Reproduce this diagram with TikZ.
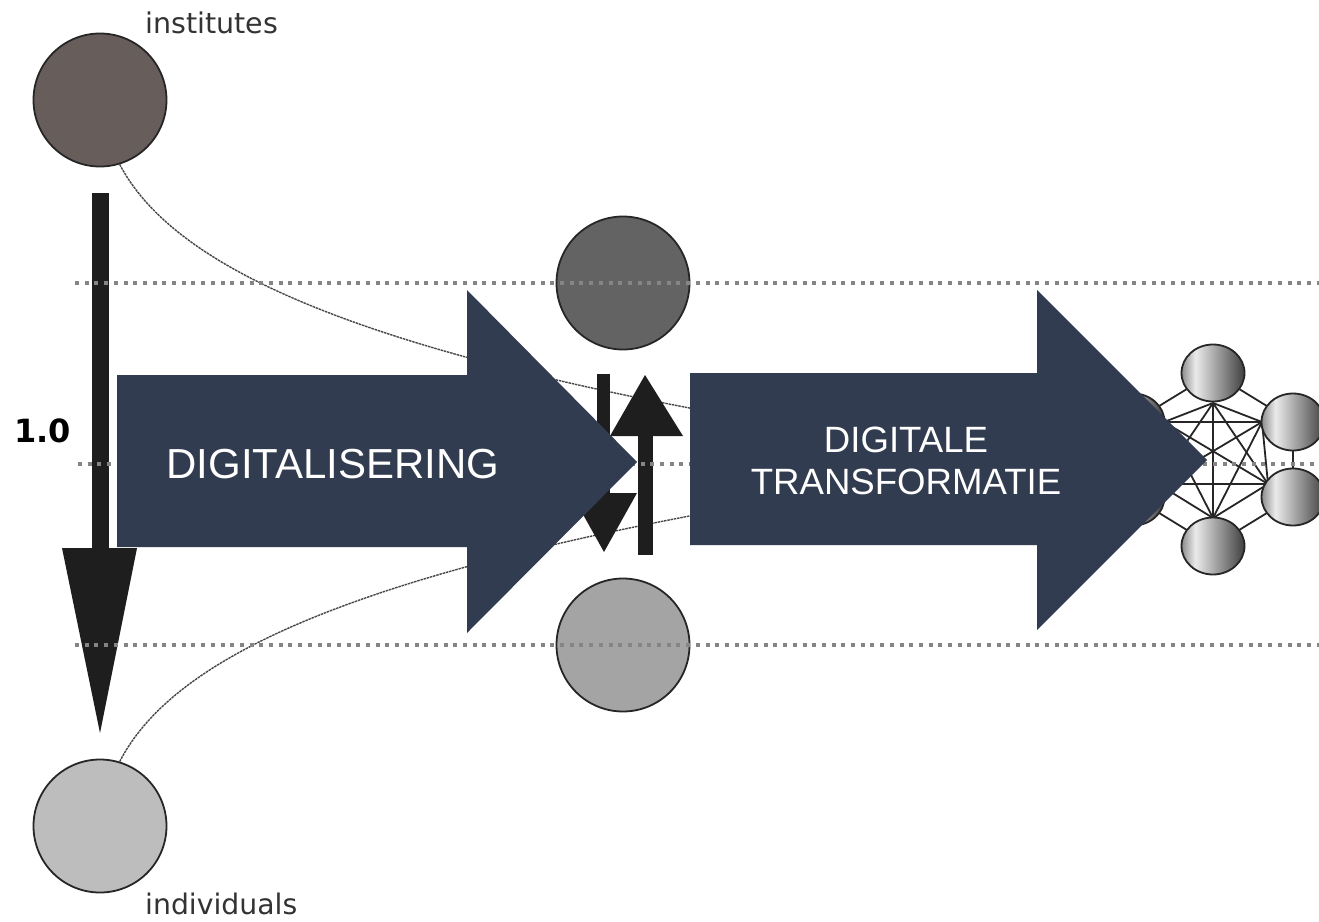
\documentclass[tikz,border=0pt]{standalone}
\usepackage{fontspec}
\newfontfamily\dvsans{DejaVu Sans}
\newfontfamily\arialf{Liberation Sans}
\usetikzlibrary{shapes.geometric}
\definecolor{navy}{RGB}{50,60,80}
\definecolor{instc}{RGB}{103,93,91}
\definecolor{midtop}{RGB}{99,99,99}
\definecolor{midbot}{RGB}{164,164,164}
\definecolor{indc}{RGB}{189,189,189}
\definecolor{arrowblk}{RGB}{30,30,30}
\pgfdeclarehorizontalshading{ballshade}{100bp}{color(0bp)=(black!45); color(25bp)=(black!45); color(36bp)=(white!92!black); color(75bp)=(black!75); color(100bp)=(black!75)}
\begin{document}
\begin{tikzpicture}[x=1pt,y=-1pt,
  dotline/.style={draw=black!48, line width=4pt, dash pattern=on 4pt off 5.7pt},
  ball/.style={circle, draw=black!85, line width=1.8pt, minimum size=133pt, inner sep=0pt},
  thincurve/.style={draw=black!72, line width=1.4pt, dash pattern=on 2.5pt off 0.8pt},
  netball/.style={ellipse, draw=black!85, line width=1.8pt, minimum width=63pt, minimum height=57pt, inner sep=0pt, shade, shading=ballshade},
  netedge/.style={draw=black!85, line width=1.8pt},
  blackarrow/.style={fill=arrowblk},
  bigarrow/.style={fill=navy},
  bigtext/.style={text=white, inner sep=0pt, align=center}
]
\useasboundingbox (0,0) rectangle (1319,921);
\fill[white] (0,0) rectangle (1319,921);

% circles
\node[ball, fill=instc] (inst) at (100,100) {};
\node[ball, fill=indc] (indiv) at (100,826) {};
\node[ball, fill=midtop] (mtop) at (623,283) {};
\node[ball, fill=midbot] (mbot) at (623,645) {};

% thin curves
\coordinate (tEnd) at (700,410);
\coordinate (bEnd) at (700,514);
\draw[thincurve] (inst.-73) .. controls (170,260) and (330,340) .. (tEnd);
\draw[thincurve] (indiv.73) .. controls (170,664) and (330,584) .. (bEnd);

% left vertical arrow
\fill[blackarrow] (91.5,193) rectangle (108.5,552);
\fill[blackarrow] (62,548) -- (137,548) -- (100,733) -- cycle;

% middle arrows
\fill[blackarrow] (638,433) rectangle (652.5,555);
\fill[blackarrow] (610,436) -- (683,436) -- (645,375) -- cycle;
\fill[blackarrow] (596.5,374) rectangle (610,496);
\fill[blackarrow] (571,493) -- (637,493) -- (604,552) -- cycle;

% network
\coordinate (nT) at (1213,373);
\coordinate (nUR) at (1293,422);
\coordinate (nLR) at (1293,497);
\coordinate (nB) at (1213,546);
\coordinate (nLL) at (1133,497);
\coordinate (nUL) at (1133,422);
\coordinate (hT) at (1213,403);
\coordinate (hUR) at (1262,422);
\coordinate (hLR) at (1268,484);
\coordinate (hB) at (1213,518);
\coordinate (hLL) at (1158,484);
\coordinate (hUL) at (1164,422);
\foreach \a/\b in {hT/hUR,hT/hLR,hT/hB,hT/hLL,hT/hUL,hUR/hLR,hUR/hB,hUR/hLL,hUR/hUL,hLR/hB,hLR/hLL,hLR/hUL,hB/hLL,hB/hUL,hLL/hUL}
  \draw[netedge] (\a) -- (\b);
\foreach \a/\b in {nT/nUR,nUR/nLR,nLR/nB,nB/nLL,nLL/nUL,nUL/nT}
  \draw[netedge] (\a) -- (\b);
\node[netball] (bT) at (nT) {};
\node[netball] (bUR) at (nUR) {};
\node[netball] (bLR) at (nLR) {};
\node[netball] (bB) at (nB) {};
\node[netball] (bLL) at (nLL) {};
\node[netball] (bUL) at (nUL) {};

% dotted lines
\coordinate (d1a) at (75,283); \coordinate (d1b) at (1319,283);
\coordinate (d2a) at (78,464); \coordinate (d2b) at (1319,464);
\coordinate (d3a) at (75,645); \coordinate (d3b) at (1319,645);
\draw[dotline] (d1a) -- (d1b);
\draw[dotline] (d2a) -- (d2b);
\draw[dotline] (d3a) -- (d3b);

% big navy arrows
\fill[bigarrow] (117,375) -- (467,375) -- (467,290) -- (637,462) -- (467,633) -- (467,547) -- (117,547) -- cycle;
\fill[bigarrow] (690,373) -- (1037,373) -- (1037,290) -- (1207,460) -- (1037,630) -- (1037,545) -- (690,545) -- cycle;

% texts
\node[bigtext, font=\arialf\fontsize{42}{50}\selectfont] (digi) at (333,464) {DIGITALISERING};
\node[bigtext, font=\arialf\fontsize{36.6}{42}\selectfont] (trans) at (906,461) {DIGITALE\\TRANSFORMATIE};
\node[anchor=base west, inner sep=0pt, text=black!80, font=\dvsans\fontsize{28.5}{33}\selectfont] (linst) at (145,33) {institutes};
\node[anchor=base west, inner sep=0pt, text=black!80, font=\dvsans\fontsize{28.3}{33}\selectfont] (lind) at (145,914) {individuals};
\node[anchor=base west, inner sep=0pt, text=black, font=\dvsans\bfseries\fontsize{32}{37}\selectfont] (lone) at (14,442) {1.0};
\end{tikzpicture}
\end{document}
